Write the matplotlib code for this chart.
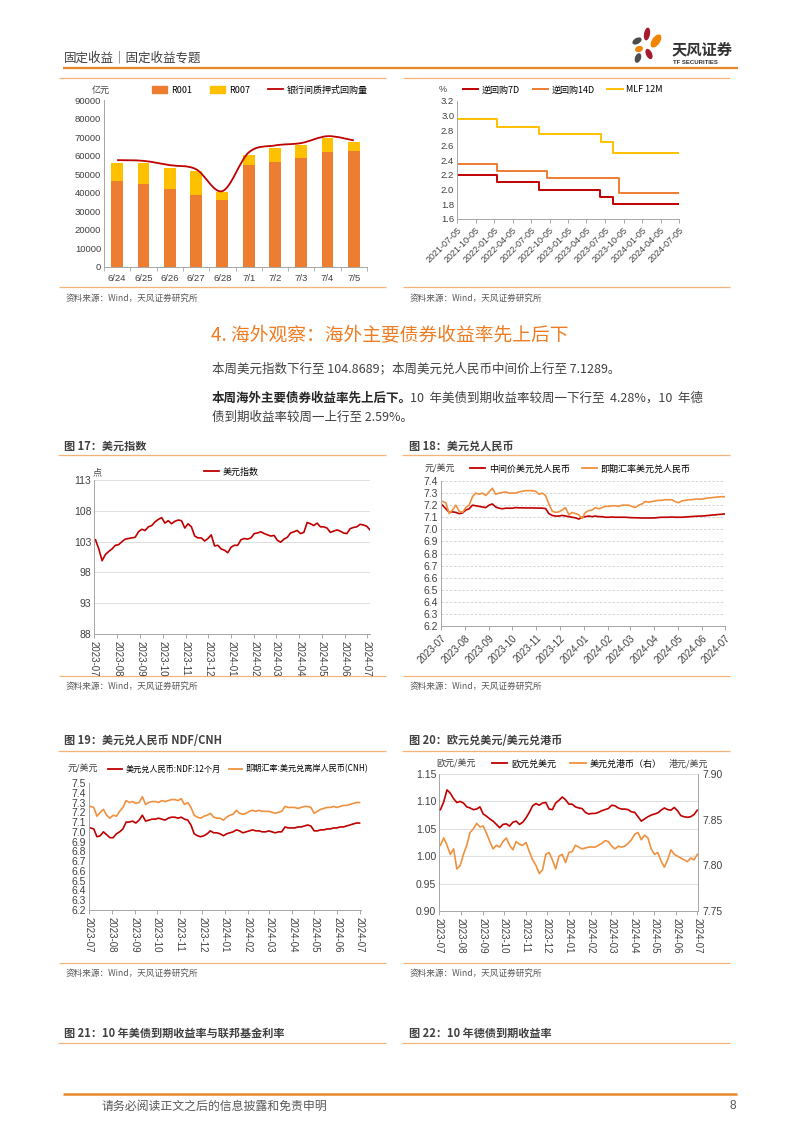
# fixed income weekly page 8 - repo volume, policy rates, FX panels
import numpy as np
import pandas as pd
import matplotlib
matplotlib.use('Agg')
import matplotlib.pyplot as plt
import matplotlib.dates as mdates
from matplotlib.patches import Ellipse, PathPatch, Patch
from matplotlib.path import Path
from matplotlib.lines import Line2D

plt.rcParams['font.family'] = ['Liberation Sans', 'Noto Sans CJK SC', 'DejaVu Sans']
plt.rcParams['axes.unicode_minus'] = False
CJK = ['Noto Sans CJK SC', 'DejaVu Sans']

RED = '#C00000'
ORANGE = '#ED7D31'
ORANGE2 = '#F0913F'
YELLOW = '#FFC000'
TXT = '#404040'
AXC = '#A6A6A6'

# ---- data: repo volume (100 mn yuan)
repo_days = ['6/24', '6/25', '6/26', '6/27', '6/28', '7/1', '7/2', '7/3', '7/4', '7/5']
r001 = [46600, 44800, 41900, 39000, 36000, 54900, 56700, 58500, 62100, 62300]
r007 = [9550, 11000, 11400, 12800, 4500, 5400, 7600, 7500, 7200, 5100]
repo_total = [57600, 57200, 54900, 52700, 40900, 61700, 65500, 66800, 70500, 68200]

# ---- data: policy rates (step changes)
rr7_dates = ['2021-07-05', '2022-01-17', '2022-08-15', '2023-06-13', '2023-08-15', '2024-07-05']
rr7 = [2.20, 2.10, 2.00, 1.90, 1.80, 1.80]
rr14_dates = ['2021-07-05', '2022-01-17', '2022-09-20', '2023-09-12', '2024-07-05']
rr14 = [2.35, 2.25, 2.15, 1.95, 1.95]
mlf_dates = ['2021-07-05', '2022-01-17', '2022-08-15', '2023-06-15', '2023-08-15', '2024-07-05']
mlf = [2.95, 2.85, 2.75, 2.65, 2.50, 2.50]
rate_ticks = ['2021-07-05', '2021-10-05', '2022-01-05', '2022-04-05', '2022-07-05', '2022-10-05',
              '2023-01-05', '2023-04-05', '2023-07-05', '2023-10-05', '2024-01-05', '2024-04-05',
              '2024-07-05']

# ---- data: dollar index
dxy = [103.3, 101.8, 99.9, 100.9, 101.4, 101.8, 102.4, 102.5, 103.0, 103.4, 103.5, 103.6,
       103.7, 104.6, 105.0, 104.8, 105.4, 105.6, 106.2, 106.6, 106.9, 106.0, 106.4, 105.9,
       106.3, 106.5, 106.4, 105.2, 105.9, 105.4, 103.9, 103.6, 103.6, 103.1, 103.5, 104.1,
       102.3, 102.4, 101.8, 101.6, 101.2, 102.1, 102.4, 102.4, 103.3, 103.5, 103.4, 103.6,
       104.3, 104.4, 104.6, 104.3, 104.1, 103.9, 104.0, 103.2, 102.9, 103.4, 103.7, 104.4,
       104.6, 104.8, 104.3, 104.5, 106.1, 105.9, 105.6, 106.0, 105.4, 105.4, 105.2, 104.5,
       104.7, 104.9, 104.7, 104.4, 104.3, 105.1, 105.3, 105.4, 105.8, 105.7, 105.5, 104.9]

# ---- data: USD/CNY central parity and spot
cny_mid = [7.200, 7.170, 7.140, 7.145, 7.140, 7.130, 7.135, 7.160, 7.170, 7.200, 7.195, 7.190,
           7.185, 7.180, 7.200, 7.210, 7.185, 7.175, 7.170, 7.175, 7.175, 7.175, 7.180, 7.178,
           7.178, 7.177, 7.177, 7.177, 7.176, 7.176, 7.175, 7.172, 7.130, 7.115, 7.110, 7.110,
           7.115, 7.110, 7.105, 7.100, 7.095, 7.085, 7.100, 7.105, 7.110, 7.105, 7.110, 7.105,
           7.105, 7.100, 7.100, 7.102, 7.100, 7.100, 7.100, 7.100, 7.098, 7.096, 7.096, 7.095,
           7.094, 7.094, 7.094, 7.094, 7.095, 7.098, 7.100, 7.100, 7.100, 7.102, 7.100, 7.100,
           7.100, 7.102, 7.104, 7.106, 7.108, 7.109, 7.110, 7.112, 7.115, 7.118, 7.120, 7.123,
           7.125, 7.128]
cny_spot = [7.230, 7.220, 7.130, 7.160, 7.200, 7.150, 7.140, 7.180, 7.200, 7.270, 7.300, 7.290,
            7.300, 7.280, 7.310, 7.340, 7.290, 7.300, 7.305, 7.310, 7.300, 7.300, 7.300, 7.310,
            7.315, 7.320, 7.320, 7.320, 7.315, 7.290, 7.300, 7.280, 7.210, 7.150, 7.140, 7.145,
            7.160, 7.180, 7.120, 7.140, 7.130, 7.120, 7.090, 7.140, 7.155, 7.160, 7.180, 7.170,
            7.180, 7.190, 7.190, 7.195, 7.195, 7.190, 7.200, 7.200, 7.200, 7.190, 7.180, 7.200,
            7.210, 7.230, 7.225, 7.230, 7.235, 7.240, 7.240, 7.245, 7.245, 7.245, 7.230, 7.220,
            7.235, 7.240, 7.245, 7.245, 7.250, 7.250, 7.250, 7.255, 7.260, 7.262, 7.265, 7.268,
            7.270, 7.270]

# ---- data: NDF 12M and CNH
ndf = [7.04, 7.03, 6.95, 6.96, 7.00, 6.97, 6.94, 6.94, 6.98, 7.00, 7.03, 7.10, 7.10, 7.11,
       7.09, 7.12, 7.17, 7.11, 7.12, 7.13, 7.13, 7.14, 7.13, 7.12, 7.14, 7.15, 7.15, 7.14,
       7.15, 7.13, 7.12, 7.07, 6.98, 6.96, 6.95, 6.96, 6.98, 7.01, 6.99, 6.99, 6.98, 6.96,
       6.98, 6.99, 7.00, 7.02, 7.01, 6.99, 7.00, 7.01, 7.02, 7.01, 7.01, 7.00, 7.00, 7.01,
       7.00, 6.99, 7.00, 7.00, 7.05, 7.04, 7.04, 7.04, 7.05, 7.05, 7.06, 7.07, 7.06, 7.01,
       7.01, 7.02, 7.02, 7.03, 7.03, 7.04, 7.04, 7.05, 7.05, 7.06, 7.07, 7.08, 7.09, 7.09]
cnh = [7.26, 7.25, 7.16, 7.20, 7.23, 7.17, 7.14, 7.17, 7.16, 7.21, 7.25, 7.32, 7.30, 7.31,
       7.29, 7.30, 7.36, 7.28, 7.30, 7.31, 7.31, 7.30, 7.32, 7.31, 7.32, 7.33, 7.33, 7.32,
       7.34, 7.28, 7.30, 7.25, 7.17, 7.15, 7.14, 7.16, 7.17, 7.19, 7.15, 7.14, 7.14, 7.12,
       7.15, 7.17, 7.18, 7.22, 7.19, 7.18, 7.19, 7.21, 7.22, 7.21, 7.22, 7.21, 7.21, 7.21,
       7.20, 7.19, 7.20, 7.21, 7.26, 7.25, 7.25, 7.25, 7.24, 7.25, 7.26, 7.26, 7.25, 7.19,
       7.21, 7.23, 7.24, 7.25, 7.25, 7.26, 7.25, 7.26, 7.27, 7.27, 7.28, 7.29, 7.30, 7.30]

# ---- data: EUR/USD and USD/HKD
eurusd = [1.085, 1.099, 1.121, 1.115, 1.105, 1.098, 1.100, 1.097, 1.090, 1.088, 1.085, 1.086,
          1.090, 1.077, 1.073, 1.068, 1.064, 1.058, 1.052, 1.058, 1.059, 1.055, 1.062, 1.064,
          1.058, 1.062, 1.070, 1.080, 1.092, 1.096, 1.093, 1.097, 1.098, 1.086, 1.085, 1.097,
          1.102, 1.108, 1.103, 1.095, 1.095, 1.090, 1.088, 1.087, 1.080, 1.077, 1.078, 1.078,
          1.080, 1.083, 1.085, 1.087, 1.093, 1.092, 1.088, 1.086, 1.086, 1.085, 1.081, 1.080,
          1.072, 1.064, 1.068, 1.072, 1.075, 1.077, 1.079, 1.084, 1.088, 1.085, 1.084, 1.089,
          1.083, 1.074, 1.072, 1.071, 1.072, 1.076, 1.084]
usdhkd = [7.822, 7.830, 7.822, 7.812, 7.818, 7.796, 7.800, 7.812, 7.822, 7.836, 7.840, 7.846,
          7.842, 7.843, 7.835, 7.826, 7.818, 7.822, 7.820, 7.826, 7.830, 7.822, 7.817, 7.826,
          7.823, 7.822, 7.825, 7.815, 7.806, 7.800, 7.791, 7.795, 7.812, 7.814, 7.806, 7.796,
          7.810, 7.812, 7.803, 7.814, 7.815, 7.822, 7.820, 7.818, 7.819, 7.820, 7.820, 7.820,
          7.822, 7.824, 7.827, 7.826, 7.821, 7.818, 7.821, 7.820, 7.821, 7.824, 7.828, 7.834,
          7.836, 7.828, 7.833, 7.830, 7.818, 7.812, 7.814, 7.805, 7.798, 7.806, 7.817, 7.812,
          7.810, 7.808, 7.806, 7.804, 7.808, 7.806, 7.812]

W, H = 802, 1133
fig = plt.figure(figsize=(W / 100, H / 100), dpi=100)

# page layer in pixel coordinates
pg = fig.add_axes([0, 0, 1, 1])
pg.set_xlim(0, W)
pg.set_ylim(H, 0)
pg.axis('off')


def box(l, t, r, b):
    return fig.add_axes([l / W, 1 - b / H, (r - l) / W, (b - t) / H])


def rule(x0, x1, y, color='#F2B27A', lw=0.9):
    pg.plot([x0, x1], [y, y], color=color, lw=lw, solid_capstyle='butt')


def source(x, y):
    pg.text(x, y, '资料来源：Wind，天风证券研究所', fontsize=6.2, color='#595959',
            va='center', family=CJK)


def style_axes(ax, size=7.5, xsize=7):
    for s in ['top', 'right']:
        ax.spines[s].set_visible(False)
    ax.spines['left'].set_color(AXC)
    ax.spines['bottom'].set_color(AXC)
    ax.spines['left'].set_linewidth(0.7)
    ax.spines['bottom'].set_linewidth(0.7)
    ax.tick_params(axis='y', labelsize=size, colors=TXT, length=0, pad=2)
    ax.tick_params(axis='x', labelsize=xsize, labelcolor=TXT, length=3, color=AXC, width=0.7,
                   direction='out', pad=2)


def legend(ax, handles, x, y, colsp=1.5, size=6.5):
    ax.legend(handles=handles, loc='center left', bbox_to_anchor=(x, y), ncol=len(handles),
              frameon=False, handlelength=1.7, handletextpad=0.4,
              columnspacing=colsp, borderpad=0, borderaxespad=0, prop={'family': CJK, 'size': size})


def month_axis(ax, rot):
    ax.xaxis.set_major_locator(mdates.MonthLocator())
    ax.xaxis.set_major_formatter(mdates.DateFormatter('%Y-%m'))
    if rot == 45:
        plt.setp(ax.get_xticklabels(), rotation=45, ha='right', rotation_mode='anchor')
    else:
        plt.setp(ax.get_xticklabels(), rotation=-90, ha='center', va='top')


# ---- page header
pg.text(64, 58, '固定收益｜固定收益专题', fontsize=9, color=TXT, va='center', family=CJK)
rule(63, 738, 68, color='#E8892B', lw=1.6)
for (cx, cy, w, h, a, c) in [(647, 34, 6, 13, 10, '#A6192E'), (656, 41, 8, 15, 35, '#F08300'),
                             (637, 41, 10, 6, -30, '#4D4D4D'), (639, 49, 8, 6, -20, '#F08300'),
                             (649, 54, 6, 11, -25, '#A6192E'), (638, 58, 6, 10, 20, '#4D4D4D')]:
    pg.add_patch(Ellipse((cx, cy), w, h, angle=a, color=c, lw=0))
pg.text(672, 49, '天风证券', fontsize=11, fontweight='bold', color='#333333', va='center', family=CJK)
pg.text(673, 63, 'TF SECURITIES', fontsize=4.3, fontweight='bold', color='#333333', va='center')

# ---- top panels frame
rule(59, 386, 78)
rule(403, 730, 78)
rule(59, 386, 287)
rule(403, 730, 287)
source(66, 298)
source(410, 298)

# ---- repo volume chart
ax1 = box(104, 100, 367, 267)
xs = np.arange(len(repo_days))
ax1.bar(xs, r001, width=0.45, color=ORANGE, zorder=2)
ax1.bar(xs, r007, bottom=r001, width=0.45, color=YELLOW, zorder=2)
pts = np.column_stack([xs, repo_total]).astype(float)
verts = [pts[0]]
codes = [Path.MOVETO]
for i in range(len(pts) - 1):
    p0 = pts[i - 1] if i > 0 else pts[i]
    p3 = pts[i + 2] if i + 2 < len(pts) else pts[i + 1]
    verts += [pts[i] + (pts[i + 1] - p0) / 6, pts[i + 1] - (p3 - pts[i]) / 6, pts[i + 1]]
    codes += [Path.CURVE4] * 3
ax1.add_patch(PathPatch(Path(verts, codes), fill=False, edgecolor=RED, lw=1.3, zorder=3))
ax1.set_xlim(-0.5, len(repo_days) - 0.5)
ax1.set_ylim(0, 90000)
ax1.set_yticks(np.arange(0, 90001, 10000))
ax1.set_xticks(xs)
ax1.set_xticklabels(repo_days)
style_axes(ax1, size=6.8, xsize=6.8)
ax1.tick_params(axis='x', length=0, pad=5)
ax1.set_xticks(np.arange(-0.5, len(repo_days), 1), minor=True)
ax1.tick_params(axis='x', which='minor', length=3, color=AXC)
legend(ax1, [Patch(color=ORANGE, label='R001'), Patch(color=YELLOW, label='R007'),
             Line2D([], [], color=RED, lw=1.3, label='银行间质押式回购量')],
       (152 - 104) / 263, (267 - 90) / 167, colsp=2.0)
pg.text(92, 90, '亿元', fontsize=6.5, color=TXT, va='center', family=CJK)

# ---- policy rate chart
ax2 = box(457, 101, 679, 219)
ax2.step(pd.to_datetime(rr7_dates), rr7, where='post', color=RED, lw=1.4)
ax2.step(pd.to_datetime(rr14_dates), rr14, where='post', color=ORANGE, lw=1.4)
ax2.step(pd.to_datetime(mlf_dates), mlf, where='post', color=YELLOW, lw=1.4)
ax2.set_xlim(pd.Timestamp('2021-07-05'), pd.Timestamp('2024-07-05'))
ax2.set_ylim(1.6, 3.2)
ax2.set_yticks(np.arange(1.6, 3.21, 0.2))
ax2.yaxis.set_major_formatter(plt.FormatStrFormatter('%.1f'))
ax2.set_xticks(pd.to_datetime(rate_ticks))
ax2.set_xticklabels(rate_ticks)
style_axes(ax2, size=6.8, xsize=6.5)
plt.setp(ax2.get_xticklabels(), rotation=45, ha='right', rotation_mode='anchor')
legend(ax2, [Line2D([], [], color=RED, lw=1.4, label='逆回购7D'),
             Line2D([], [], color=ORANGE, lw=1.4, label='逆回购14D'),
             Line2D([], [], color=YELLOW, lw=1.4, label='MLF 12M')],
       (463 - 457) / 222, (219 - 90) / 118, colsp=1.4)
pg.text(439, 90, '%', fontsize=6.5, color=TXT, va='center')

# ---- section text
pg.text(211, 336, '4. 海外观察：海外主要债券收益率先上后下', fontsize=13.5, color='#EE7C22',
        va='center', family=CJK)
pg.text(212, 369, '本周美元指数下行至 104.8689；本周美元兑人民币中间价上行至 7.1289。',
        fontsize=9, color=TXT, va='center', family=CJK)
pg.text(212, 398, '本周海外主要债券收益率先上后下。', fontsize=9, color='#262626',
        fontweight='bold', va='center', family=CJK)
pg.text(410, 398, '10  年美债到期收益率较周一下行至  4.28%，10  年德', fontsize=9, color=TXT,
        va='center', family=CJK)
pg.text(212, 417, '债到期收益率较周一上行至 2.59%。', fontsize=9, color=TXT, va='center', family=CJK)

# ---- figure titles row 1
pg.text(64, 446, '图 17：美元指数', fontsize=8, fontweight='bold', color=TXT, va='center', family=CJK)
pg.text(409, 446, '图 18：美元兑人民币', fontsize=8, fontweight='bold', color=TXT, va='center', family=CJK)
rule(58, 386, 455)
rule(402, 730, 455)
rule(59, 386, 676)
rule(403, 730, 676)
source(66, 686)
source(410, 686)

# ---- dollar index
ax3 = box(94, 480, 370, 634)
dxy_dates = pd.date_range('2023-07-03', '2024-07-05', periods=len(dxy))
ax3.plot(dxy_dates, dxy, color=RED, lw=1.2)
ax3.set_xlim(pd.Timestamp('2023-07-01'), pd.Timestamp('2024-07-05'))
ax3.set_ylim(88, 113)
ax3.set_yticks(np.arange(88, 114, 5))
ax3.grid(axis='y', color='#D9D9D9', lw=0.6)
ax3.set_axisbelow(True)
style_axes(ax3)
month_axis(ax3, -90)
legend(ax3, [Line2D([], [], color=RED, lw=1.3, label='美元指数')], (204 - 94) / 276, (634 - 472) / 154)
pg.text(93, 473, '点', fontsize=6.5, color=TXT, va='center', family=CJK)

# ---- USD/CNY
ax4 = box(441, 481, 725, 626)
cny_dates = pd.date_range('2023-07-03', '2024-07-01', periods=len(cny_mid))
ax4.plot(cny_dates, cny_mid, color=RED, lw=1.2)
ax4.plot(cny_dates, cny_spot, color=ORANGE2, lw=1.2)
ax4.set_xlim(pd.Timestamp('2023-07-01'), pd.Timestamp('2024-07-01'))
ax4.set_ylim(6.2, 7.4)
ax4.set_yticks(np.arange(6.2, 7.41, 0.1))
ax4.yaxis.set_major_formatter(plt.FormatStrFormatter('%.1f'))
ax4.grid(axis='y', color='#CFCFCF', lw=0.6, linestyle=(0, (3, 2)))
ax4.set_axisbelow(True)
style_axes(ax4)
month_axis(ax4, 45)
legend(ax4, [Line2D([], [], color=RED, lw=1.3, label='中间价美元兑人民币'),
             Line2D([], [], color=ORANGE2, lw=1.3, label='即期汇率美元兑人民币')],
       (470 - 441) / 284, (626 - 469) / 145, colsp=1.3)
pg.text(425, 469, '元/美元', fontsize=6.5, color=TXT, va='center', family=CJK)

# ---- figure titles row 2
pg.text(64, 741, '图 19：美元兑人民币 NDF/CNH', fontsize=8, fontweight='bold', color=TXT, va='center', family=CJK)
pg.text(409, 741, '图 20：欧元兑美元/美元兑港币', fontsize=8, fontweight='bold', color=TXT, va='center', family=CJK)
rule(58, 386, 751)
rule(402, 730, 751)
rule(59, 386, 963)
rule(403, 730, 963)
source(66, 973)
source(410, 973)

# ---- NDF / CNH
ax5 = box(89, 783, 361, 910)
fx_dates = pd.date_range('2023-07-03', '2024-07-01', periods=len(ndf))
ax5.plot(fx_dates, ndf, color=RED, lw=1.2)
ax5.plot(fx_dates, cnh, color=ORANGE2, lw=1.2)
ax5.set_xlim(pd.Timestamp('2023-07-01'), pd.Timestamp('2024-07-03'))
ax5.set_ylim(6.2, 7.5)
ax5.set_yticks(np.arange(6.2, 7.51, 0.1))
ax5.yaxis.set_major_formatter(plt.FormatStrFormatter('%.1f'))
style_axes(ax5)
month_axis(ax5, -90)
legend(ax5, [Line2D([], [], color=RED, lw=1.3, label='美元兑人民币:NDF:12个月'),
             Line2D([], [], color=ORANGE2, lw=1.3, label='即期汇率:美元兑离岸人民币(CNH)')],
       (108 - 89) / 272, (910 - 769) / 127, colsp=1.0, size=5.9)
pg.text(68, 769, '元/美元', fontsize=6.5, color=TXT, va='center', family=CJK)

# ---- EUR/USD and USD/HKD
ax6 = box(439, 774, 698, 911)
eur_dates = pd.date_range('2023-07-03', '2024-07-01', periods=len(eurusd))
hkd_dates = pd.date_range('2023-07-03', '2024-07-01', periods=len(usdhkd))
ax6.plot(eur_dates, eurusd, color=RED, lw=1.2, zorder=3)
ax6.set_xlim(pd.Timestamp('2023-07-01'), pd.Timestamp('2024-07-02'))
ax6.set_ylim(0.90, 1.15)
ax6.set_yticks(np.arange(0.90, 1.151, 0.05))
ax6.yaxis.set_major_formatter(plt.FormatStrFormatter('%.2f'))
ax6.grid(axis='y', color='#D9D9D9', lw=0.6)
ax6.set_axisbelow(True)
style_axes(ax6)
month_axis(ax6, -90)
ax6r = ax6.twinx()
ax6r.plot(hkd_dates, usdhkd, color=ORANGE2, lw=1.2)
ax6r.set_ylim(7.75, 7.90)
ax6r.set_yticks(np.arange(7.75, 7.901, 0.05))
ax6r.yaxis.set_major_formatter(plt.FormatStrFormatter('%.2f'))
for s in ['top', 'left', 'bottom']:
    ax6r.spines[s].set_visible(False)
ax6r.spines['right'].set_color(AXC)
ax6r.spines['right'].set_linewidth(0.7)
ax6r.tick_params(axis='y', labelsize=7.5, colors=TXT, length=0, pad=3)
legend(ax6r, [Line2D([], [], color=RED, lw=1.3, label='欧元兑美元'),
              Line2D([], [], color=ORANGE2, lw=1.3, label='美元兑港币（右）')],
       (492 - 439) / 259, (911 - 764) / 137, colsp=1.6)
pg.text(436, 764, '欧元/美元', fontsize=6.5, color=TXT, va='center', family=CJK)
pg.text(669, 764, '港元/美元', fontsize=6.5, color=TXT, va='center', family=CJK)

# ---- figure titles row 3
pg.text(64, 1033, '图 21：10 年美债到期收益率与联邦基金利率', fontsize=8, fontweight='bold', color=TXT,
        va='center', family=CJK)
pg.text(409, 1033, '图 22：10 年德债到期收益率', fontsize=8, fontweight='bold', color=TXT,
        va='center', family=CJK)
rule(58, 386, 1043)
rule(402, 730, 1043)

# ---- footer
rule(63, 737, 1094, color='#E8892B', lw=1.8)
pg.text(102, 1106, '请务必阅读正文之后的信息披露和免责申明', fontsize=8.6, color='#595959',
        va='center', family=CJK)
pg.text(730, 1106, '8', fontsize=8.6, color='#595959', va='center')

fig.savefig('out.png', dpi=100)
